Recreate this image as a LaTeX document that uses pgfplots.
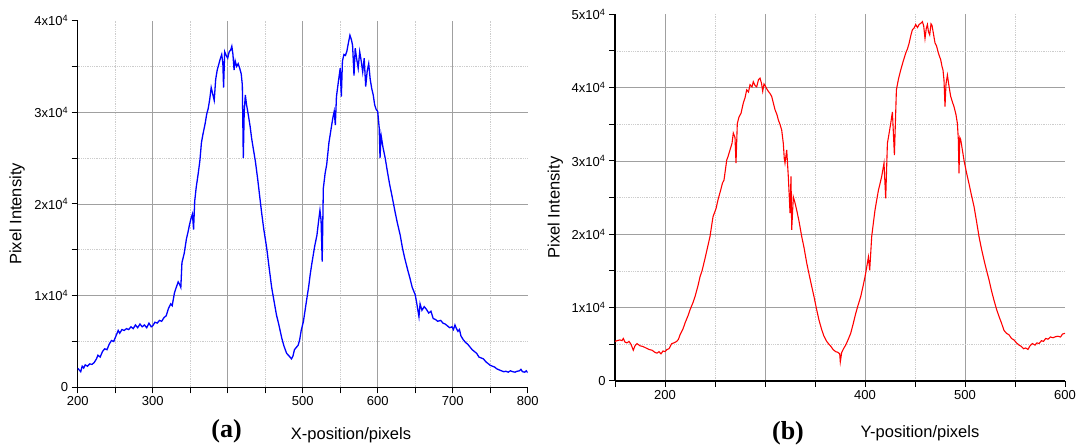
\documentclass[border=0pt]{standalone}
\usepackage{pgfplots}
\pgfplotsset{compat=1.18}
\usepackage{fontspec}
\setmainfont{Liberation Sans}
\newfontfamily\serifb{Liberation Serif}
\definecolor{majgrid}{RGB}{160,160,160}
\definecolor{mingrid}{RGB}{205,205,205}
\begin{document}
\begin{tikzpicture}
\useasboundingbox (0,0) rectangle (1076bp,446bp);
\pgfplotsset{
  myax/.style={
    scale only axis,
    axis lines*=left,
    axis line style={black, line width=1.3bp},
    tick align=outside,
    major tick length=6bp, minor tick length=6bp,
    every tick/.style={black, line width=1bp},
    tick label style={font=\fontsize{13bp}{15bp}\selectfont},
    scaled ticks=false,
    grid=both,
    major grid style={majgrid, line width=0.8bp},
    minor grid style={mingrid, line width=0.8bp, densely dotted},
    extra x tick style={grid=none},
    extra y tick style={grid=none},
    clip=true,
  }
}
% ---------------- panel (a) ----------------
\begin{axis}[myax,
  at={(77.7bp,58.7bp)}, anchor=south west,
  width=450bp, height=366.7bp,
  xmin=200, xmax=800, ymin=0, ymax=40000,
  xtick={200,300,400,500,600,700},
  xticklabels={200,300,,500,600,700},
  extra x ticks={800}, extra x tick labels={800},
  minor xtick={250,350,450,550,650,750},
  ytick={0,10000,20000,30000},
  yticklabels={0,1x10\textsuperscript{4},2x10\textsuperscript{4},3x10\textsuperscript{4}},
  extra y ticks={40000}, extra y tick labels={4x10\textsuperscript{4}},
  minor ytick={5000,15000,25000,35000},
]
\addplot[color={rgb,255:red,0;green,0;blue,255}, line width=1.3bp] coordinates {
(200,2070)(202,1900)(204,1700)(206,2300)(208,2100)(210,2450)(213,2300)(216,2550)(219,2500)(222,2700)
(225,3100)(227,3500)(230,3300)(233,3900)(236,4200)(239,4100)(242,4700)(245,5100)(248,5000)(251,5600)
(254,6200)(256,5900)(259,6300)(262,6200)(265,6400)(268,6300)(271,6600)(274,6400)(277,6800)(280,6500)
(283,6900)(286,6600)(289,6800)(292,6500)(295,7000)(298,6600)(300,6700)(303,7100)(306,7000)(309,7300)
(312,7200)(315,7600)(318,7800)(321,8600)(324,9100)(326,8900)(329,10300)(331,10800)(334,11500)(336,11200)
(337.5,10900)(339,13600)(342,14600)(345,16200)(347,16900)(349,17700)(351,18400)(353,18900)(354.5,17200)(356,20300)
(358,21800)(361,23500)(363,24800)(365,26700)(367,27600)(370,28800)(372,29800)(374,30400)(376,31400)(378,32700)
(380,32000)(382,31300)(384,33600)(386,34600)(388,35200)(390,35800)(392,36300)(393.5,35400)(394.5,32700)(396,36600)
(398,36200)(400,35900)(402,36600)(404,36800)(405.5,37200)(407,36300)(408.5,34600)(410,35600)(412,35000)(414,35300)
(416,34800)(418,34200)(419.5,33000)(420.8,25000)(422,30000)(423.5,31900)(425,30900)(427.5,29700)(430,28400)(432,27100)
(434,26100)(437,24600)(440,22700)(443,20600)(445,19200)(448,17300)(452,15200)(455,13200)(458.6,10900)(462,9300)
(465,7900)(468,6900)(472,5400)(475,4500)(478.6,3700)(482,3400)(485,3100)(487,3400)(489,4100)(491,4300)
(494,4600)(496,5200)(498,6200)(501,7200)(503,8300)(505,9400)(508,11000)(510,12300)(512,13400)(514,14400)
(516,15400)(519,16600)(521,18000)(523,19300)(524.5,18200)(526,13700)(527.5,21700)(530,23400)(532,24300)(535,26700)
(537.3,27900)(540,29300)(542,30100)(543.5,28600)(545,31700)(547.5,33300)(550,34800)(551.5,31700)(553,35600)(555,36300)
(557,36200)(559,36700)(561,37600)(563,38400)(565,37900)(566.5,37300)(568.4,34000)(570,37000)(572,35800)(574,34800)
(576,36600)(578,35600)(580,34400)(582,35900)(584,32800)(586,34500)(588,35300)(590,33600)(592,32600)(594,31900)
(596,30800)(598,30300)(600,30100)(602,28300)(603.1,25000)(604.5,27500)(607,26200)(610,25000)(613,23500)(616,22100)
(619,20900)(623,19200)(626,18000)(630,16600)(633,15200)(636,14100)(640,12800)(643,11900)(646,10900)(650,10100)
(652,9200)(654,8200)(655,7700)(656.5,9100)(659,8400)(662,8800)(665,8500)(668,8100)(671,8300)(674,7500)
(677,7400)(680,7200)(684,7300)(687,7000)(690,6900)(693,6700)(696,6500)(699,6600)(701,6300)(703,6800)
(705,6400)(707,6100)(709,6300)(711,5600)(714,5200)(717,4900)(720,4700)(723,4400)(726,4100)(729,3900)
(732,3700)(735,3300)(738,3200)(741,3100)(744,2800)(747,2600)(750,2400)(753,2300)(756,2200)(759,2000)
(762,1900)(765,1800)(768,1700)(771,1750)(774,1650)(777,1800)(780,1700)(783,1650)(786,1750)(789,1800)
(791,1950)(793,1700)(796,1650)(798,1800)(800,1600)
};
\end{axis}
% ---------------- panel (b) ----------------
\begin{axis}[myax,
  at={(615bp,65bp)}, anchor=south west,
  width=450bp, height=366.7bp,
  xmin=150, xmax=600, ymin=0, ymax=50000,
  xtick={200,300,400,500},
  xticklabels={200,,400,500},
  extra x ticks={600}, extra x tick labels={600},
  minor xtick={150,250,350,450,550},
  ytick={0,10000,20000,30000,40000},
  yticklabels={0,1x10\textsuperscript{4},2x10\textsuperscript{4},3x10\textsuperscript{4},4x10\textsuperscript{4}},
  extra y ticks={50000}, extra y tick labels={5x10\textsuperscript{4}},
  minor ytick={5000,15000,25000,35000,45000},
]
\addplot[color={rgb,255:red,255;green,0;blue,0}, line width=1.1bp] coordinates {
(150,5400)(152,5500)(155,5600)(157,5500)(158.3,5800)(160,5300)(162,5200)(164,5400)(166,5000)(168.3,4200)
(170,4800)(172,5100)(175,4800)(178,4700)(181,4500)(184,4300)(187,4200)(190,3900)(192,3800)(194,4000)
(196,3700)(198,4100)(200,4000)(202,4300)(204,4400)(206.7,5100)(209,5200)(211.7,5400)(213.5,5700)(215,6300)
(218,7100)(220,7900)(223,8900)(225,9700)(228,10700)(230,11500)(233,13000)(235,14200)(237,15000)(240,16700)
(243,18500)(245,19700)(248,22400)(251,23500)(253,24700)(256,26200)(257.5,27000)(259,27400)(261.7,30100)(263,30600)
(265,31500)(267,32400)(268.3,33800)(270,33200)(271,29700)(272.3,35100)(274,36000)(276,36500)(278.3,37900)(280,38600)
(281.7,39700)(283.5,39400)(285,40400)(287,40100)(288.3,40800)(290,40300)(291.7,40100)(293.5,41100)(295,41300)(296.5,40600)
(297.7,39500)(299,40500)(300,40300)(301.5,39900)(303.3,39500)(305,39200)(306.7,38800)(308.5,37800)(310,37000)(312,36300)
(313.3,35600)(315,35000)(316.7,34200)(318.3,32400)(319.3,30300)(320,29700)(321.7,31500)(323.3,27900)(324.5,24500)(325,22900)
(326,27900)(326.7,20600)(328.3,25100)(330,24300)(331.7,23300)(334,21800)(336.7,19700)(339,18200)(341.7,16100)(344,14600)
(346.7,12900)(349,11500)(351.7,9700)(354,8300)(356.7,7000)(359,6100)(361.7,5400)(364,5000)(366,4700)(368,4300)
(370.7,4000)(373,3900)(374.7,3700)(375.3,2600)(376.7,3900)(378.5,4400)(380.7,4900)(383,5600)(385.7,6500)(388,7700)
(390.7,9200)(393,10300)(395.7,11500)(398,12900)(400,14200)(401.7,15500)(403.4,16900)(404.7,15100)(406.7,19700)(408.5,21700)
(410,23300)(412,24900)(413.4,26000)(415,26900)(416.7,27900)(419,29700)(420.7,24900)(422.4,32400)(424,33700)(425.7,35100)
(427.4,36700)(429.4,30800)(431.4,39700)(433.5,41200)(435.7,42400)(438,43500)(440.7,44700)(442.5,45300)(444,46000)(446,47200)
(447.4,47900)(449,48100)(450.7,48600)(452.5,48200)(454,48600)(456,48800)(457.4,49000)(458.7,48400)(460,46700)(461.3,48100)
(462.4,48600)(463.5,47600)(464.7,47200)(466,48700)(467,48500)(468.5,47300)(470,46100)(471.5,45700)(473.4,44700)(475.7,43800)
(477,42900)(478,42400)(479,41000)(480,37400)(481,40500)(482.4,41700)(484,40200)(485.7,38800)(487.5,38000)(489,37400)
(491,36300)(492.4,35100)(493.3,33000)(494,28300)(494.8,33200)(495.7,32900)(497.5,31400)(499,30100)(501.5,28400)(504,26900)
(506.5,25300)(509,23800)(511.5,21800)(514,19700)(516.5,18000)(519,16500)(521.5,15100)(524,13800)(526.5,12300)(529,11000)
(531.5,9800)(534,8800)(536.5,7900)(539,6900)(541.5,6500)(544,6300)(546.5,5800)(549,5600)(551.5,5200)(554,4900)
(556.5,4700)(558.5,4400)(560.7,4500)(563,4300)(565,4800)(567.4,5100)(570,4900)(572,5200)(574,5100)(576.5,5500)
(578.5,5400)(580.7,5800)(583,5700)(585.5,6000)(588,5900)(590.7,6050)(593,6100)(595.5,6000)(597.5,6400)(600,6500)
};
\end{axis}
% ---------------- labels ----------------
\node[font=\fontsize{16.5bp}{19bp}\selectfont, rotate=90] at (17.2bp,232bp) {Pixel Intensity};
\node[font=\fontsize{16.5bp}{19bp}\selectfont, rotate=90] at (555.4bp,238.5bp) {Pixel Intensity};
\node[font=\fontsize{16.5bp}{19bp}\selectfont] at (351bp,11bp) {X-position/pixels};
\node[font=\fontsize{16.5bp}{19bp}\selectfont] at (920bp,13bp) {Y-position/pixels};
\node[font=\serifb\bfseries\fontsize{26bp}{30bp}\selectfont] at (226.6bp,15bp) {(a)};
\node[font=\serifb\bfseries\fontsize{26bp}{30bp}\selectfont] at (788bp,13bp) {(b)};
\end{tikzpicture}
\end{document}
